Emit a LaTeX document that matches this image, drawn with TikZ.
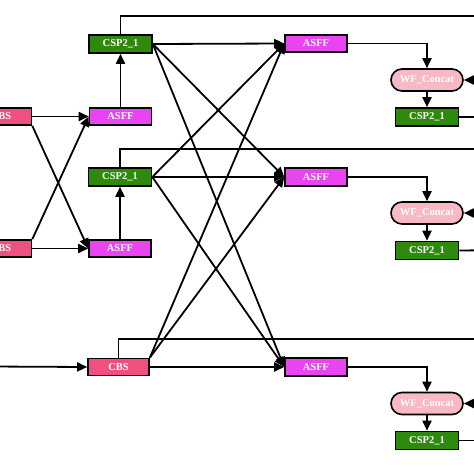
\documentclass[tikz,border=0pt]{standalone}
\usepackage{fontspec}
\setmainfont{Liberation Serif}
\usetikzlibrary{arrows.meta,shapes.misc}
\definecolor{cspgreen}{RGB}{46,138,12}
\definecolor{asffmag}{RGB}{232,69,240}
\definecolor{cbspink}{RGB}{240,80,128}
\definecolor{wfpink}{RGB}{248,184,196}
\begin{document}
\begin{tikzpicture}[x=1pt,y=-1pt,
 box/.style={draw=black,line width=1.6pt,inner sep=0pt,text=white,font=\fontsize{10.5}{12}\selectfont\bfseries},
 csp/.style={box,fill=cspgreen,minimum width=63pt,minimum height=18pt},
 asff/.style={box,fill=asffmag,minimum width=62pt,minimum height=17.5pt},
 cbs/.style={box,fill=cbspink,minimum width=61pt,minimum height=17pt},
 wf/.style={box,fill=wfpink,rounded rectangle,minimum width=72pt,minimum height=22pt},
 link/.style={line width=1.8pt},
 arr/.style={link,-{Triangle[length=10pt,width=9pt]}}
]
\path[use as bounding box,clip] (0,0) rectangle (474,474);
% left column
\node[cbs] (cbsA) at (1,116.5) {CBS};
\node[cbs] (cbsB) at (1,248.5) {CBS};
% column 2
\node[csp] (cspA) at (120.5,44) {CSP2\_1};
\node[asff] (asffA) at (120.5,116.5) {ASFF};
\node[csp] (cspB) at (120,177) {CSP2\_1};
\node[asff] (asffB) at (120,248.5) {ASFF};
\node[cbs] (cbsC) at (118.5,367) {CBS};
% column 3
\node[asff] (asffC) at (316,43.5) {ASFF};
\node[asff] (asffD) at (316,177) {ASFF};
\node[asff] (asffE) at (316,367) {ASFF};
% column 4
\node[wf] (wfA) at (427,80) {WF\_Concat};
\node[csp] (cspC) at (427,117) {CSP2\_1};
\node[wf] (wfB) at (427,213) {WF\_Concat};
\node[csp] (cspD) at (427,250.5) {CSP2\_1};
\node[wf] (wfC) at (427,403.5) {WF\_Concat};
\node[csp] (cspE) at (427,440.5) {CSP2\_1};
% off-picture ends
\coordinate (inC) at (-10,366.5);
\coordinate (tA) at (480,15.7);
\coordinate (tB) at (480,149);
\coordinate (tC) at (480,339.3);
\coordinate (oC) at (480,117);
\coordinate (oD) at (480,250.3);
\coordinate (oE) at (480,440.5);
\coordinate (rA) at (480,80);
\coordinate (rB) at (480,213);
\coordinate (rC) at (480,403.5);
% left crossing
\draw[arr] (cbsA.east) -- (asffA.west);
\draw[arr] (cbsB.east) -- (asffB.west);
\draw[arr] (cbsA.south east) -- (asffB.west);
\draw[arr] (cbsB.north east) -- (asffA.west);
\draw[arr] (inC) -- (cbsC.west);
% up arrows
\draw[arr] (asffA.north) -- (cspA.south);
\draw[arr] (asffB.north) -- (cspB.south);
% long top lines
\draw[link] (cspA.north) |- (tA);
\draw[link] (cspB.north) |- (tB);
\draw[link] (cbsC.north) |- (tC);
% middle crossing
\draw[arr] (cspA.east) -- (asffC.west);
\draw[arr] (cspA.east) -- (asffD.west);
\draw[arr] (cspA.east) -- (asffE.west);
\draw[arr] (cspB.east) -- (asffC.west);
\draw[arr] (cspB.east) -- (asffD.west);
\draw[arr] (cspB.east) -- (asffE.west);
\draw[arr] (cbsC.north east) -- (asffC.west);
\draw[arr] (cbsC.north east) -- (asffD.west);
\draw[arr] (cbsC.east) -- (asffE.west);
% right column
\draw[arr] (asffC.east) -| (wfA.north);
\draw[arr] (asffD.east) -| (wfB.north);
\draw[arr] (asffE.east) -| (wfC.north);
\draw[arr] (wfA.south) -- (cspC.north);
\draw[arr] (wfB.south) -- (cspD.north);
\draw[arr] (wfC.south) -- (cspE.north);
\draw[arr] (rA) -- (wfA.east);
\draw[arr] (rB) -- (wfB.east);
\draw[arr] (rC) -- (wfC.east);
\draw[link] (cspC.east) -- (oC);
\draw[link] (cspD.east) -- (oD);
\draw[link] (cspE.east) -- (oE);
\end{tikzpicture}
\end{document}
